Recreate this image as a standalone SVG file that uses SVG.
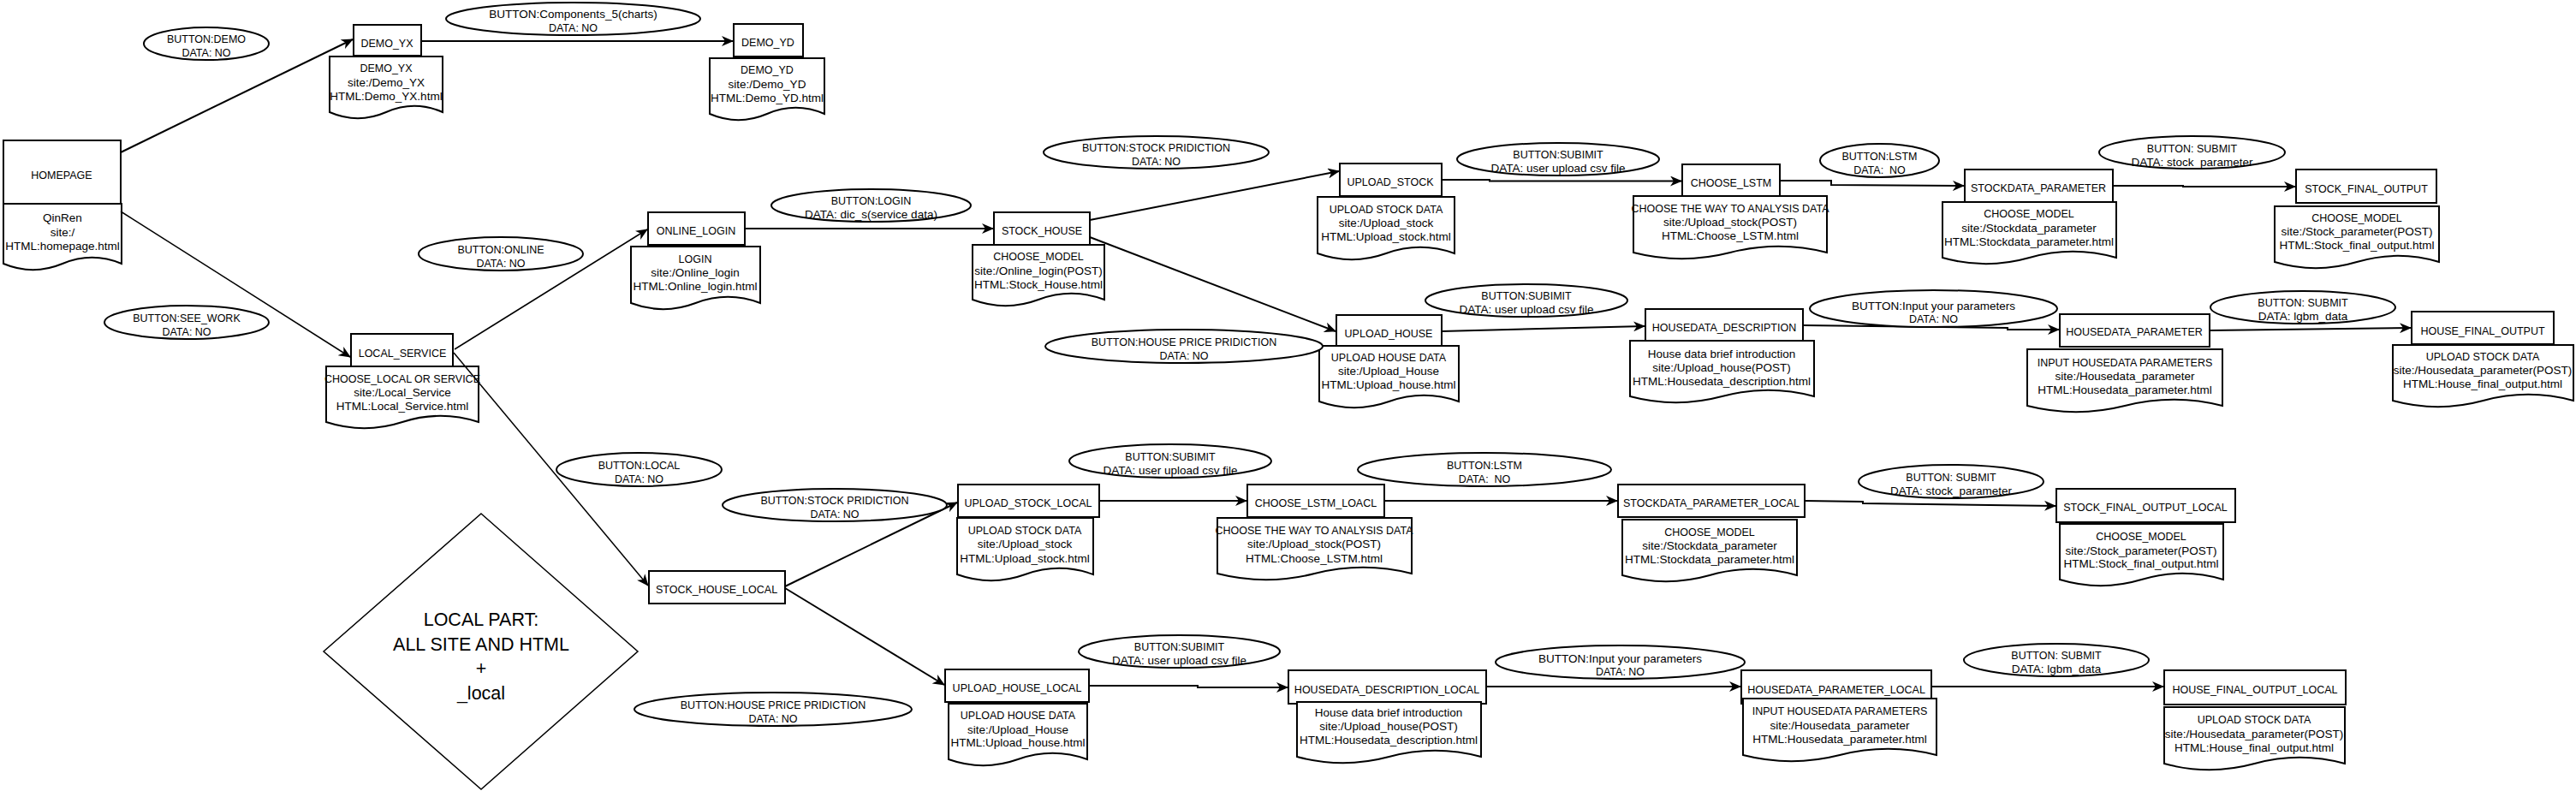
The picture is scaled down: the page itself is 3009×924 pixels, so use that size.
<svg xmlns="http://www.w3.org/2000/svg" width="3009" height="924" viewBox="0 0 3009 924">
<style>
.bx{fill:#fff;stroke:#000;stroke-width:2}
.dc{fill:#fff;stroke:#000;stroke-width:2}
.el{fill:#fff;stroke:#000;stroke-width:2}
.dm{fill:#fff;stroke:#000;stroke-width:1.5}
.t{font-family:"Liberation Sans",Arial,sans-serif;font-size:13.5px;text-anchor:middle;fill:#000}
.u{font-family:"Liberation Sans",Arial,sans-serif;font-size:12.5px;text-anchor:middle;fill:#000}
.big{font-family:"Liberation Sans",Arial,sans-serif;font-size:21.5px;text-anchor:middle;fill:#000}
.cn{fill:none;stroke:#000;stroke-width:2;marker-end:url(#arr)}
.thin{stroke-width:1.5}
</style>
<defs>
<marker id="arr" viewBox="0 0 14 12" refX="13" refY="6" markerWidth="14" markerHeight="12" markerUnits="userSpaceOnUse" orient="auto">
<path d="M0,0 L14,6 L0,12 L4,6 Z" fill="#000"/>
</marker>
</defs>
<rect width="3009" height="924" fill="#fff"/>

<!-- Page nodes: box + document -->
<g id="homepage">
<rect class="bx" x="4" y="164" width="137" height="74"/>
<text class="u" x="72" y="208.6">HOMEPAGE</text>
<path class="dc" d="M4,238 H142 V308 Q107.5,293.6 73,308 Q38.5,322.4 4,308 Z"/>
<text class="t" x="73"><tspan x="73" y="258.6">QinRen</tspan><tspan x="73" y="275.6">site:/</tspan><tspan x="73" y="291.6">HTML:homepage.html</tspan></text>
</g>

<g id="demo_yx">
<rect class="bx" x="413" y="29" width="79" height="36"/>
<text class="u" x="452" y="54.6">DEMO_YX</text>
<path class="dc" d="M385,66 H517 V131 Q484,116.6 451,131 Q418,145.4 385,131 Z"/>
<text class="t"><tspan class="u" x="451" y="83.6">DEMO_YX</tspan><tspan x="451" y="100.6">site:/Demo_YX</tspan><tspan x="451" y="116.6">HTML:Demo_YX.html</tspan></text>
</g>

<g id="demo_yd">
<rect class="bx" x="857" y="28" width="81" height="38"/>
<text class="u" x="897" y="53.6">DEMO_YD</text>
<path class="dc" d="M829,68 H963 V133 Q929.5,118.6 896,133 Q862.5,147.4 829,133 Z"/>
<text class="t"><tspan class="u" x="896" y="85.6">DEMO_YD</tspan><tspan x="896" y="102.6">site:/Demo_YD</tspan><tspan x="896" y="118.6">HTML:Demo_YD.html</tspan></text>
</g>

<g id="local_service">
<rect class="bx" x="410" y="390" width="119" height="38"/>
<text class="u" x="470" y="416.6">LOCAL_SERVICE</text>
<path class="dc" d="M381,428 H559 V493 Q514.5,478.6 470,493 Q425.5,507.4 381,493 Z"/>
<text class="t"><tspan class="u" x="470" y="446.6">CHOOSE_LOCAL OR SERVICE</tspan><tspan x="470" y="462.6">site:/Local_Service</tspan><tspan x="470" y="478.6">HTML:Local_Service.html</tspan></text>
</g>

<g id="online_login">
<rect class="bx" x="757" y="248" width="113" height="38"/>
<text class="u" x="813" y="273.6">ONLINE_LOGIN</text>
<path class="dc" d="M737,288 H888 V354 Q850.25,339.6 812.5,354 Q774.75,368.4 737,354 Z"/>
<text class="t"><tspan class="u" x="812" y="306.6">LOGIN</tspan><tspan x="812" y="322.6">site:/Online_login</tspan><tspan x="812" y="338.6">HTML:Online_login.html</tspan></text>
</g>

<g id="stock_house">
<rect class="bx" x="1161" y="248" width="112" height="38"/>
<text class="u" x="1217" y="273.6">STOCK_HOUSE</text>
<path class="dc" d="M1136,286 H1290 V350 Q1251.5,335.6 1213,350 Q1174.5,364.4 1136,350 Z"/>
<text class="t"><tspan class="u" x="1213" y="303.6">CHOOSE_MODEL</tspan><tspan x="1213" y="320.6">site:/Online_login(POST)</tspan><tspan x="1213" y="336.6">HTML:Stock_House.html</tspan></text>
</g>

<g id="upload_stock">
<rect class="bx" x="1565" y="191" width="119" height="38"/>
<text class="u" x="1624" y="216.6">UPLOAD_STOCK</text>
<path class="dc" d="M1539,230 H1699 V296 Q1659,281.6 1619,296 Q1579,310.4 1539,296 Z"/>
<text class="t"><tspan class="u" x="1619" y="248.6">UPLOAD STOCK DATA</tspan><tspan x="1619" y="264.6">site:/Upload_stock</tspan><tspan x="1619" y="280.6">HTML:Upload_stock.html</tspan></text>
</g>

<g id="choose_lstm">
<rect class="bx" x="1965" y="192" width="114" height="37"/>
<text class="u" x="2022" y="217.6">CHOOSE_LSTM</text>
<path class="dc" d="M1908,229 H2134 V295 Q2077.5,280.6 2021,295 Q1964.5,309.4 1908,295 Z"/>
<text class="t"><tspan class="u" x="2021" y="247.6">CHOOSE THE WAY TO ANALYSIS DATA</tspan><tspan x="2021" y="263.6">site:/Upload_stock(POST)</tspan><tspan x="2021" y="279.6">HTML:Choose_LSTM.html</tspan></text>
</g>

<g id="stockdata_parameter">
<rect class="bx" x="2295" y="198" width="173" height="38"/>
<text class="u" x="2381" y="223.6">STOCKDATA_PARAMETER</text>
<path class="dc" d="M2269,236 H2472 V301 Q2421.25,286.6 2370.5,301 Q2319.75,315.4 2269,301 Z"/>
<text class="t"><tspan class="u" x="2370" y="253.6">CHOOSE_MODEL</tspan><tspan x="2370" y="270.6">site:/Stockdata_parameter</tspan><tspan x="2370" y="286.6">HTML:Stockdata_parameter.html</tspan></text>
</g>

<g id="stock_final_output">
<rect class="bx" x="2682" y="198" width="164" height="39"/>
<text class="u" x="2764" y="224.6">STOCK_FINAL_OUTPUT</text>
<path class="dc" d="M2657,241 H2849 V306 Q2801,291.6 2753,306 Q2705,320.4 2657,306 Z"/>
<text class="t"><tspan class="u" x="2753" y="258.6">CHOOSE_MODEL</tspan><tspan x="2753" y="274.6">site:/Stock_parameter(POST)</tspan><tspan x="2753" y="290.6">HTML:Stock_final_output.html</tspan></text>
</g>

<g id="upload_house">
<rect class="bx" x="1561" y="368" width="123" height="38"/>
<text class="u" x="1622" y="393.6">UPLOAD_HOUSE</text>
<path class="dc" d="M1541,404 H1704 V469 Q1663.25,454.6 1622.5,469 Q1581.75,483.4 1541,469 Z"/>
<text class="t"><tspan class="u" x="1622" y="421.6">UPLOAD HOUSE DATA</tspan><tspan x="1622" y="437.6">site:/Upload_House</tspan><tspan x="1622" y="453.6">HTML:Upload_house.html</tspan></text>
</g>

<g id="housedata_description">
<rect class="bx" x="1922" y="361" width="184" height="37"/>
<text class="u" x="2014" y="386.6">HOUSEDATA_DESCRIPTION</text>
<path class="dc" d="M1904,398 H2119 V463 Q2065.25,448.6 2011.5,463 Q1957.75,477.4 1904,463 Z"/>
<text class="t"><tspan x="2011" y="417.6">House data brief introduction</tspan><tspan x="2011" y="433.6">site:/Upload_house(POST)</tspan><tspan x="2011" y="449.6">HTML:Housedata_description.html</tspan></text>
</g>

<g id="housedata_parameter">
<rect class="bx" x="2406" y="367" width="175" height="38"/>
<text class="u" x="2493" y="391.6">HOUSEDATA_PARAMETER</text>
<path class="dc" d="M2368,408 H2596 V474 Q2539,459.6 2482,474 Q2425,488.4 2368,474 Z"/>
<text class="t"><tspan class="u" x="2482" y="427.6">INPUT HOUSEDATA PARAMETERS</tspan><tspan x="2482" y="443.6">site:/Housedata_parameter</tspan><tspan x="2482" y="459.6">HTML:Housedata_parameter.html</tspan></text>
</g>

<g id="house_final_output">
<rect class="bx" x="2817" y="364" width="166" height="38"/>
<text class="u" x="2900" y="390.6">HOUSE_FINAL_OUTPUT</text>
<path class="dc" d="M2795,403 H3006 V468 Q2953.25,453.6 2900.5,468 Q2847.75,482.4 2795,468 Z"/>
<text class="t"><tspan class="u" x="2900" y="420.6">UPLOAD STOCK DATA</tspan><tspan x="2900" y="436.6">site:/Housedata_parameter(POST)</tspan><tspan x="2900" y="452.6">HTML:House_final_output.html</tspan></text>
</g>

<g id="stock_house_local">
<rect class="bx" x="758" y="667" width="159" height="38"/>
<text class="u" x="837" y="692.6">STOCK_HOUSE_LOCAL</text>
</g>

<g id="upload_stock_local">
<rect class="bx" x="1119" y="566" width="165" height="38"/>
<text class="u" x="1201" y="591.6">UPLOAD_STOCK_LOCAL</text>
<path class="dc" d="M1118,605 H1277 V671 Q1237.25,656.6 1197.5,671 Q1157.75,685.4 1118,671 Z"/>
<text class="t"><tspan class="u" x="1197" y="623.6">UPLOAD STOCK DATA</tspan><tspan x="1197" y="639.6">site:/Upload_stock</tspan><tspan x="1197" y="656.6">HTML:Upload_stock.html</tspan></text>
</g>

<g id="choose_lstm_loacl">
<rect class="bx" x="1457" y="566" width="160" height="38"/>
<text class="u" x="1537" y="591.6">CHOOSE_LSTM_LOACL</text>
<path class="dc" d="M1422,605 H1649 V670 Q1592.25,655.6 1535.5,670 Q1478.75,684.4 1422,670 Z"/>
<text class="t"><tspan class="u" x="1535" y="623.6">CHOOSE THE WAY TO ANALYSIS DATA</tspan><tspan x="1535" y="639.6">site:/Upload_stock(POST)</tspan><tspan x="1535" y="656.6">HTML:Choose_LSTM.html</tspan></text>
</g>

<g id="stockdata_parameter_local">
<rect class="bx" x="1890" y="566" width="218" height="38"/>
<text class="u" x="1999" y="591.6">STOCKDATA_PARAMETER_LOCAL</text>
<path class="dc" d="M1895,607 H2099 V672 Q2048,657.6 1997,672 Q1946,686.4 1895,672 Z"/>
<text class="t"><tspan class="u" x="1997" y="625.6">CHOOSE_MODEL</tspan><tspan x="1997" y="641.6">site:/Stockdata_parameter</tspan><tspan x="1997" y="657.6">HTML:Stockdata_parameter.html</tspan></text>
</g>

<g id="stock_final_output_local">
<rect class="bx" x="2402" y="571" width="209" height="39"/>
<text class="u" x="2506" y="596.6">STOCK_FINAL_OUTPUT_LOCAL</text>
<path class="dc" d="M2406,612 H2597 V677 Q2549.25,662.6 2501.5,677 Q2453.75,691.4 2406,677 Z"/>
<text class="t"><tspan class="u" x="2501" y="630.6">CHOOSE_MODEL</tspan><tspan x="2501" y="647.6">site:/Stock_parameter(POST)</tspan><tspan x="2501" y="662.6">HTML:Stock_final_output.html</tspan></text>
</g>

<g id="upload_house_local">
<rect class="bx" x="1104" y="782" width="168" height="38"/>
<text class="u" x="1188" y="807.6">UPLOAD_HOUSE_LOCAL</text>
<path class="dc" d="M1108,822 H1270 V887 Q1229.5,872.6 1189,887 Q1148.5,901.4 1108,887 Z"/>
<text class="t"><tspan class="u" x="1189" y="839.6">UPLOAD HOUSE DATA</tspan><tspan x="1189" y="856.6">site:/Upload_House</tspan><tspan x="1189" y="871.6">HTML:Upload_house.html</tspan></text>
</g>

<g id="housedata_description_local">
<rect class="bx" x="1505" y="783" width="231" height="39"/>
<text class="u" x="1620" y="809.6">HOUSEDATA_DESCRIPTION_LOCAL</text>
<path class="dc" d="M1515,820 H1730 V884 Q1676.25,869.6 1622.5,884 Q1568.75,898.4 1515,884 Z"/>
<text class="t"><tspan x="1622" y="836.6">House data brief introduction</tspan><tspan x="1622" y="852.6">site:/Upload_house(POST)</tspan><tspan x="1622" y="868.6">HTML:Housedata_description.html</tspan></text>
</g>

<g id="housedata_parameter_local">
<rect class="bx" x="2034" y="783" width="222" height="39"/>
<text class="u" x="2145" y="809.6">HOUSEDATA_PARAMETER_LOCAL</text>
<path class="dc" d="M2036,816 H2262 V882 Q2205.5,867.6 2149,882 Q2092.5,896.4 2036,882 Z"/>
<text class="t"><tspan class="u" x="2149" y="834.6">INPUT HOUSEDATA PARAMETERS</tspan><tspan x="2149" y="851.6">site:/Housedata_parameter</tspan><tspan x="2149" y="867.6">HTML:Housedata_parameter.html</tspan></text>
</g>

<g id="house_final_output_local">
<rect class="bx" x="2528" y="783" width="212" height="40"/>
<text class="u" x="2634" y="809.6">HOUSE_FINAL_OUTPUT_LOCAL</text>
<path class="dc" d="M2528,826 H2739 V892 Q2686.25,877.6 2633.5,892 Q2580.75,906.4 2528,892 Z"/>
<text class="t"><tspan class="u" x="2633" y="844.6">UPLOAD STOCK DATA</tspan><tspan x="2633" y="861.6">site:/Housedata_parameter(POST)</tspan><tspan x="2633" y="877.6">HTML:House_final_output.html</tspan></text>
</g>

<g id="local_part_note">
<polygon class="dm" points="562,600 745,761 562,922 378,761"/>
<text class="big"><tspan x="562" y="731">LOCAL PART:</tspan><tspan x="562" y="760">ALL SITE AND HTML</tspan><tspan x="562" y="788">+</tspan><tspan x="562" y="817">_local</tspan></text>
</g>

<!-- Connectors -->
<g id="connectors">
<line class="cn" x1="141" y1="178" x2="412" y2="46"/>
<line class="cn" x1="492" y1="48" x2="856" y2="48"/>
<line class="cn thin" x1="141" y1="247" x2="409" y2="417"/>
<line class="cn thin" x1="531" y1="408" x2="756" y2="268"/>
<line class="cn thin" x1="530" y1="412" x2="757" y2="684"/>
<line class="cn" x1="870" y1="267" x2="1160" y2="267"/>
<line class="cn" x1="1273" y1="257" x2="1564" y2="200"/>
<line class="cn" x1="1273" y1="277" x2="1560" y2="387"/>
<polyline class="cn" points="1684,210 1740,210 1740,211.5 1964,211.5"/>
<polyline class="cn" points="2079,211 2139,211 2139,216 2294,217"/>
<polyline class="cn" points="2468,217 2550,217 2550,218 2681,218"/>
<line class="cn" x1="1684" y1="387" x2="1921" y2="381"/>
<polyline class="cn" points="2106,380 2345,383 2345,385 2405,385"/>
<line class="cn" x1="2581" y1="386" x2="2816" y2="383"/>
<line class="cn" x1="917" y1="685" x2="1118" y2="587"/>
<line class="cn" x1="917" y1="687" x2="1103" y2="800"/>
<line class="cn" x1="1284" y1="585" x2="1456" y2="585"/>
<line class="cn" x1="1617" y1="585" x2="1889" y2="585"/>
<polyline class="cn" points="2108,585 2176,586 2176,588 2401,591"/>
<polyline class="cn" points="1272,801 1399,801 1399,803 1504,803"/>
<line class="cn" x1="1736" y1="802" x2="2033" y2="802"/>
<line class="cn" x1="2256" y1="802" x2="2527" y2="802"/>
</g>

<!-- Button / data labels -->
<g id="btn_demo"><ellipse class="el" cx="241" cy="51" rx="73" ry="19"/><text class="u"><tspan x="241" y="49.6">BUTTON:DEMO</tspan><tspan x="241" y="65.6">DATA: NO</tspan></text></g>
<g id="btn_components"><ellipse class="el" cx="669.5" cy="22" rx="148.5" ry="19"/><text class="t"><tspan x="669.5" y="20.6">BUTTON:Components_5(charts)</tspan><tspan class="u" x="669.5" y="36.6">DATA: NO</tspan></text></g>
<g id="btn_online"><ellipse class="el" cx="585" cy="296.5" rx="96" ry="19.5"/><text class="u"><tspan x="585" y="295.6">BUTTON:ONLINE</tspan><tspan x="585" y="311.6">DATA: NO</tspan></text></g>
<g id="btn_see_work"><ellipse class="el" cx="218" cy="376.5" rx="96" ry="19.5"/><text class="u"><tspan x="218" y="375.6">BUTTON:SEE_WORK</tspan><tspan x="218" y="391.6">DATA: NO</tspan></text></g>
<g id="btn_login"><ellipse class="el" cx="1017.5" cy="240" rx="116.5" ry="19"/><text class="t"><tspan class="u" x="1017.5" y="238.6">BUTTON:LOGIN</tspan><tspan x="1017.5" y="254.6">DATA: dic_s(service data)</tspan></text></g>
<g id="btn_stock_pred"><ellipse class="el" cx="1350.5" cy="178" rx="131.5" ry="19"/><text class="u"><tspan x="1350.5" y="176.6">BUTTON:STOCK PRIDICTION</tspan><tspan x="1350.5" y="192.6">DATA: NO</tspan></text></g>
<g id="btn_house_pred"><ellipse class="el" cx="1383" cy="404.5" rx="162" ry="19.5"/><text class="u"><tspan x="1383" y="403.6">BUTTON:HOUSE PRICE PRIDICTION</tspan><tspan x="1383" y="419.6">DATA: NO</tspan></text></g>
<g id="btn_subimit_stock"><ellipse class="el" cx="1820" cy="186" rx="118" ry="19"/><text class="t"><tspan class="u" x="1820" y="184.6">BUTTON:SUBIMIT</tspan><tspan x="1820" y="200.6">DATA: user upload csv file</tspan></text></g>
<g id="btn_lstm"><ellipse class="el" cx="2195.5" cy="187.5" rx="69.5" ry="19.5"/><text class="u"><tspan x="2195.5" y="186.6">BUTTON:LSTM</tspan><tspan x="2195.5" y="202.6">DATA:&#160; NO</tspan></text></g>
<g id="btn_submit_stockparam"><ellipse class="el" cx="2560.5" cy="178" rx="108.5" ry="19"/><text class="t"><tspan class="u" x="2560.5" y="177.6">BUTTON: SUBMIT</tspan><tspan x="2560.5" y="193.6">DATA: stock_parameter</tspan></text></g>
<g id="btn_subimit_house"><ellipse class="el" cx="1783" cy="351" rx="118" ry="19"/><text class="t"><tspan class="u" x="1783" y="349.6">BUTTON:SUBIMIT</tspan><tspan x="1783" y="365.6">DATA: user upload csv file</tspan></text></g>
<g id="btn_input_params"><ellipse class="el" cx="2258.5" cy="360.5" rx="144.5" ry="21.5"/><text class="t"><tspan x="2258.5" y="361.6">BUTTON:Input your parameters</tspan><tspan class="u" x="2258.5" y="376.6">DATA: NO</tspan></text></g>
<g id="btn_submit_houseparam"><ellipse class="el" cx="2690" cy="359" rx="108" ry="19"/><text class="t"><tspan class="u" x="2690" y="357.6">BUTTON: SUBMIT</tspan><tspan x="2690" y="373.6">DATA: lgbm_data</tspan></text></g>
<g id="btn_local"><ellipse class="el" cx="746.5" cy="548.5" rx="96.5" ry="19.5"/><text class="u"><tspan x="746.5" y="547.6">BUTTON:LOCAL</tspan><tspan x="746.5" y="563.6">DATA: NO</tspan></text></g>
<g id="btn_stock_pred_local"><ellipse class="el" cx="975" cy="590" rx="131" ry="19"/><text class="u"><tspan x="975" y="588.6">BUTTON:STOCK PRIDICTION</tspan><tspan x="975" y="604.6">DATA: NO</tspan></text></g>
<g id="btn_subimit_stock_local"><ellipse class="el" cx="1367" cy="538.5" rx="118" ry="19.5"/><text class="t"><tspan class="u" x="1367" y="537.6">BUTTON:SUBIMIT</tspan><tspan x="1367" y="553.6">DATA: user upload csv file</tspan></text></g>
<g id="btn_lstm_local"><ellipse class="el" cx="1734" cy="548.5" rx="148" ry="19.5"/><text class="u"><tspan x="1734" y="547.6">BUTTON:LSTM</tspan><tspan x="1734" y="563.6">DATA:&#160; NO</tspan></text></g>
<g id="btn_submit_stockparam_local"><ellipse class="el" cx="2279" cy="562.5" rx="108" ry="19.5"/><text class="t"><tspan class="u" x="2279" y="561.6">BUTTON: SUBMIT</tspan><tspan x="2279" y="577.6">DATA: stock_parameter</tspan></text></g>
<g id="btn_house_pred_local"><ellipse class="el" cx="903" cy="828.5" rx="162" ry="19.5"/><text class="u"><tspan x="903" y="827.6">BUTTON:HOUSE PRICE PRIDICTION</tspan><tspan x="903" y="843.6">DATA: NO</tspan></text></g>
<g id="btn_subimit_house_local"><ellipse class="el" cx="1377.5" cy="761" rx="117.5" ry="19"/><text class="t"><tspan class="u" x="1377.5" y="759.6">BUTTON:SUBIMIT</tspan><tspan x="1377.5" y="775.6">DATA: user upload csv file</tspan></text></g>
<g id="btn_input_params_local"><ellipse class="el" cx="1892.5" cy="773.5" rx="145.5" ry="19.5"/><text class="t"><tspan x="1892.5" y="773.6">BUTTON:Input your parameters</tspan><tspan class="u" x="1892.5" y="788.6">DATA: NO</tspan></text></g>
<g id="btn_submit_houseparam_local"><ellipse class="el" cx="2402" cy="771" rx="108" ry="19"/><text class="t"><tspan class="u" x="2402" y="769.6">BUTTON: SUBMIT</tspan><tspan x="2402" y="785.6">DATA: lgbm_data</tspan></text></g>
</svg>
